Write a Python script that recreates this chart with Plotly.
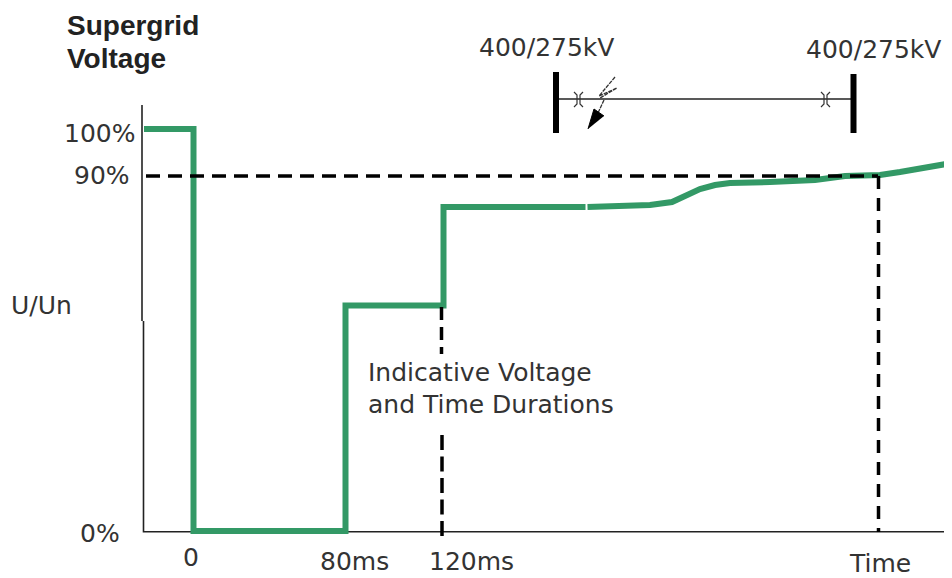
import plotly.graph_objects as go

volt1_x = [144, 193.5, 193.5, 345.5, 345.5, 443.5, 443.5, 585.5]
volt1_y = [129, 129, 531, 531, 305.5, 305.5, 207, 207]
volt2_x = [587.5, 650, 672, 686, 700, 715, 730, 770, 815, 845, 880, 900, 925, 952]
volt2_y = [207, 205, 202, 196, 189, 185, 183, 182, 180, 176, 175, 172, 167, 163]
ref90_x = [146, 878]
ref90_y = [176, 176]
drop1a_x = [441.5, 441.5]
drop1a_y = [307, 354]
drop1b_x = [442, 442]
drop1b_y = [435, 537]
drop2_x = [878.5, 878.5]
drop2_y = [176, 532]
yaxis1_x = [142, 142]
yaxis1_y = [105, 321]
yaxis2_x = [143.5, 143.5, 952]
yaxis2_y = [321, 531.7, 531.7]
line_x = [556, 853]
line_y = [99, 99]
bus1_x = [556, 556]
bus2_x = [853.5, 853.5]
bus1_y = [72, 133]
bus2_y = [74, 133]
arrow_x = [604, 598]
arrow_y = [100, 113]
head_x = [588, 594, 604]
head_y = [129, 109, 116]
bolt_x = [615, 599, 617, 600]
bolt_y = [77, 96, 88, 98]
arc_y = [92, 95, 104, 107]
arc_a_x = [574, 577, 577, 574]
arc_b_x = [583, 580, 580, 583]
arc_c_x = [821, 824, 824, 821]
arc_d_x = [830, 827, 827, 830]

labels = [
    ("Supergrid", 66, 25, True), ("Voltage", 66, 58, True),
    ("100%", 63, 133, False), ("90%", 73, 175, False), ("0%", 79, 533, False),
    ("U/Un", 10, 305, False), ("0", 182, 557, False), ("80ms", 319, 561, False),
    ("120ms", 428, 561, False), ("Time", 848, 563, False),
    ("400/275kV", 478, 47, False), ("400/275kV", 805, 49, False),
    ("Indicative Voltage", 367, 372, False), ("and Time Durations", 367, 404, False),
]

fig = go.Figure()
def line(x, y, color="#111111", width=1.5, dash="solid", fill=None):
    fig.add_trace(go.Scatter(x=x, y=y, mode="lines", hoverinfo="skip", fill=fill,
                             fillcolor=color if fill else None,
                             line=dict(color=color, width=width, dash=dash)))

line(yaxis1_x, yaxis1_y, "#222222", 1.6)
line(yaxis2_x, yaxis2_y, "#222222", 1.6)
line(volt1_x, volt1_y, "#339966", 6)
line(volt2_x, volt2_y, "#339966", 6)
line(ref90_x, ref90_y, "#000000", 3.5, "14px,8px")
line(drop1a_x, drop1a_y, "#000000", 3.5, "13px,7px")
line(drop1b_x, drop1b_y, "#000000", 3.5, "15px,6.5px")
line(drop2_x, drop2_y, "#000000", 3.5, "13px,9px")
line(line_x, line_y, "#222222", 1.5)
line(bus1_x, bus1_y, "#000000", 6)
line(bus2_x, bus2_y, "#000000", 6)
line(bolt_x, bolt_y, "#333333", 1.3, "4px,1px")
line(arrow_x, arrow_y, "#333333", 1.3, "4px,1px")
line(head_x, head_y, "#000000", 1, fill="toself")
for ax in (arc_a_x, arc_b_x, arc_c_x, arc_d_x):
    line(ax, arc_y, "#333333", 1.2)

for text, x, y, bold in labels:
    fig.add_annotation(x=x, y=y, xref="x", yref="y", text=f"<b>{text}</b>" if bold else text,
                       showarrow=False, xanchor="left", yanchor="middle", borderpad=0,
                       font=dict(family="Liberation Sans" if bold else "DejaVu Sans",
                                 size=28 if bold else 25,
                                 color="#222222" if bold else "#333333"))

fig.update_layout(width=944, height=570, margin=dict(l=0, r=0, t=0, b=0),
                  paper_bgcolor="white", plot_bgcolor="white", showlegend=False)
fig.update_xaxes(range=[8, 952], visible=False)
fig.update_yaxes(range=[578, 8], visible=False)
fig.write_html("out.html")
